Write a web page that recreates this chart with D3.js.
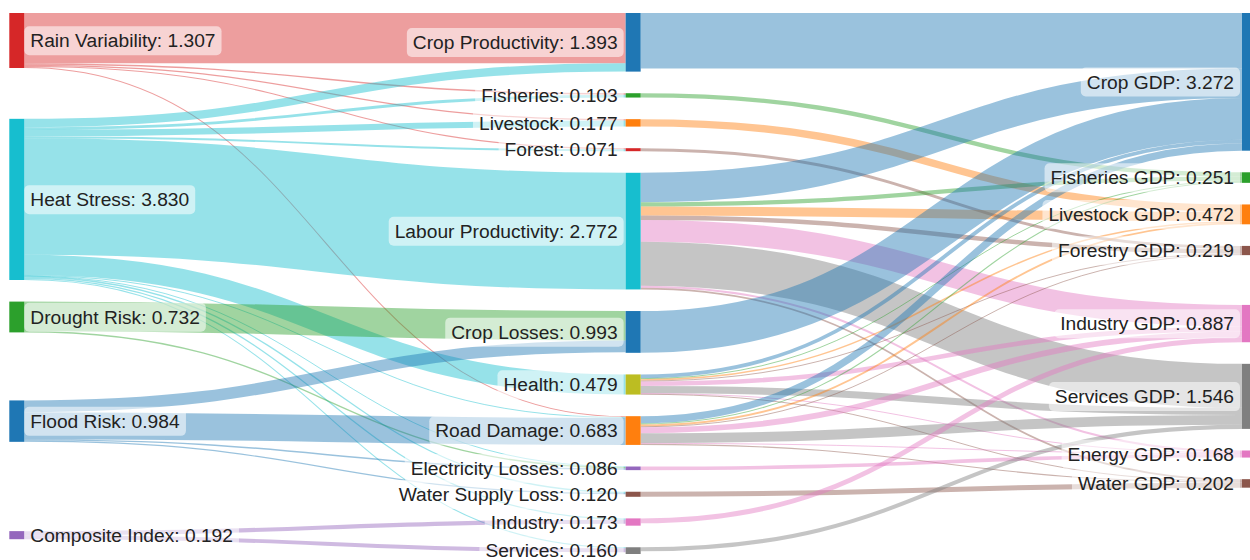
<!DOCTYPE html>
<html>
<head>
<meta charset="utf-8">
<script src="https://cdn.jsdelivr.net/npm/d3@7"></script>
<style>
  body { margin: 0; background: #fff; }
  svg { display: block; font-family: "Liberation Sans", Arial, sans-serif; }
</style>
</head>
<body>
<svg width="1250" height="560"></svg>
<script>
var nodeNames = [
  "Rain Variability", "Heat Stress", "Drought Risk", "Flood Risk", "Composite Index",
  "Crop Productivity", "Fisheries", "Livestock", "Forest", "Labour Productivity",
  "Crop Losses", "Health", "Road Damage", "Electricity Losses", "Water Supply Loss",
  "Industry", "Services",
  "Crop GDP", "Fisheries GDP", "Livestock GDP", "Forestry GDP", "Industry GDP",
  "Services GDP", "Energy GDP", "Water GDP"
];
var nodeValues = [
  1.307, 3.830, 0.732, 0.984, 0.192,
  1.393, 0.103, 0.177, 0.071, 2.772,
  0.993, 0.479, 0.683, 0.086, 0.120,
  0.173, 0.160,
  3.272, 0.251, 0.472, 0.219, 0.887,
  1.546, 0.168, 0.202
];
var nodeColors = [
  "#d62728", "#17becf", "#2ca02c", "#1f77b4", "#9467bd",
  "#1f77b4", "#2ca02c", "#ff7f0e", "#d62728", "#17becf",
  "#1f77b4", "#bcbd22", "#ff7f0e", "#9467bd", "#8c564b",
  "#e377c2", "#7f7f7f",
  "#1f77b4", "#2ca02c", "#ff7f0e", "#8c564b", "#e377c2",
  "#7f7f7f", "#e377c2", "#8c564b"
];

// hazard -> impact channel
var hazardFrom = [
  "Rain Variability", "Rain Variability", "Rain Variability", "Rain Variability", "Rain Variability",
  "Heat Stress", "Heat Stress", "Heat Stress", "Heat Stress", "Heat Stress", "Heat Stress",
  "Heat Stress", "Heat Stress", "Heat Stress", "Heat Stress", "Heat Stress",
  "Drought Risk", "Drought Risk",
  "Flood Risk", "Flood Risk", "Flood Risk", "Flood Risk",
  "Composite Index", "Composite Index"
];
var hazardTo = [
  "Crop Productivity", "Fisheries", "Livestock", "Forest", "Road Damage",
  "Crop Productivity", "Fisheries", "Livestock", "Forest", "Labour Productivity", "Health",
  "Road Damage", "Electricity Losses", "Water Supply Loss", "Industry", "Services",
  "Crop Losses", "Electricity Losses",
  "Crop Losses", "Road Damage", "Electricity Losses", "Water Supply Loss",
  "Industry", "Services"
];
var hazardValues = [
  1.193, 0.035, 0.030, 0.025, 0.024,
  0.200, 0.068, 0.147, 0.046, 2.772, 0.479,
  0.020, 0.012, 0.030, 0.030, 0.026,
  0.700, 0.032,
  0.280, 0.640, 0.035, 0.029,
  0.100, 0.092
];

// impact channel -> sector GDP
var sectorFrom = [
  "Crop Productivity", "Fisheries", "Livestock", "Forest",
  "Labour Productivity", "Labour Productivity", "Labour Productivity", "Labour Productivity",
  "Labour Productivity", "Labour Productivity", "Labour Productivity", "Labour Productivity",
  "Crop Losses",
  "Health", "Health", "Health", "Health", "Health", "Health", "Health", "Health",
  "Road Damage", "Road Damage", "Road Damage", "Road Damage", "Road Damage", "Road Damage", "Road Damage", "Road Damage",
  "Electricity Losses", "Water Supply Loss", "Industry", "Services"
];
var sectorTo = [
  "Crop GDP", "Fisheries GDP", "Livestock GDP", "Forestry GDP",
  "Crop GDP", "Fisheries GDP", "Livestock GDP", "Forestry GDP",
  "Industry GDP", "Services GDP", "Energy GDP", "Water GDP",
  "Crop GDP",
  "Crop GDP", "Fisheries GDP", "Livestock GDP", "Forestry GDP", "Industry GDP", "Services GDP", "Energy GDP", "Water GDP",
  "Crop GDP", "Fisheries GDP", "Livestock GDP", "Forestry GDP", "Industry GDP", "Services GDP", "Energy GDP", "Water GDP",
  "Energy GDP", "Water GDP", "Industry GDP", "Services GDP"
];
var sectorValues = [
  1.319, 0.103, 0.177, 0.071,
  0.700, 0.100, 0.215, 0.106,
  0.520, 1.045, 0.046, 0.040,
  0.993,
  0.090, 0.022, 0.035, 0.020, 0.110, 0.170, 0.016, 0.016,
  0.170, 0.026, 0.045, 0.022, 0.140, 0.234, 0.020, 0.026,
  0.086, 0.120, 0.117, 0.097
];

var svg = d3.select("svg"),
    width = +svg.attr("width"),
    height = +svg.attr("height");

var x0 = 9.3, x1 = 1257, y0 = 13, y1 = 554,
    dx = 15, dy = 21.6, iterations = 6;

var nodes = nodeNames.map(function(name, i) {
  return { name: name, fixedValue: nodeValues[i], color: nodeColors[i] };
});
var byName = new Map(nodes.map(function(n) { return [n.name, n]; }));
var links = [];
hazardFrom.forEach(function(s, i) {
  links.push({ source: byName.get(s), target: byName.get(hazardTo[i]), value: hazardValues[i] });
});
sectorFrom.forEach(function(s, i) {
  links.push({ source: byName.get(s), target: byName.get(sectorTo[i]), value: sectorValues[i] });
});

// ---- sankey layout (d3-sankey steps, nodeSort(null) and linkSort(null)) ----
nodes.forEach(function(n, i) { n.index = i; n.sourceLinks = []; n.targetLinks = []; });
links.forEach(function(l, i) {
  l.index = i;
  l.source.sourceLinks.push(l);
  l.target.targetLinks.push(l);
});
nodes.forEach(function(n) { n.value = n.fixedValue; });

// depths
(function() {
  var current = new Set(nodes), next = new Set(), x = 0;
  while (current.size) {
    current.forEach(function(node) {
      node.depth = x;
      node.sourceLinks.forEach(function(l) { next.add(l.target); });
    });
    x++;
    current = next;
    next = new Set();
  }
})();

var nCols = d3.max(nodes, function(d) { return d.depth; }) + 1;
var kx = (x1 - x0 - dx) / (nCols - 1);
var columns = d3.range(nCols).map(function() { return []; });
nodes.forEach(function(node) {
  var i = node.sourceLinks.length ? node.depth : nCols - 1;
  node.layer = i;
  node.x0 = x0 + i * kx;
  node.x1 = node.x0 + dx;
  columns[i].push(node);
});

var py = Math.min(dy, (y1 - y0) / (d3.max(columns, function(c) { return c.length; }) - 1));
var ky = d3.min(columns, function(c) {
  return (y1 - y0 - (c.length - 1) * py) / d3.sum(c, function(d) { return d.value; });
});

columns.forEach(function(col) {
  var y = y0;
  col.forEach(function(node) {
    node.y0 = y;
    node.y1 = y + node.value * ky;
    y = node.y1 + py;
    node.sourceLinks.forEach(function(l) { l.width = l.value * ky; });
  });
  y = (y1 - y + py) / (col.length + 1);
  col.forEach(function(node, i) {
    node.y0 += y * (i + 1);
    node.y1 += y * (i + 1);
  });
});

// target.y0 that would give an ideal link from source to target
function targetTop(source, target) {
  var y = source.y0 - (source.sourceLinks.length - 1) * py / 2;
  for (var i = 0; i < source.sourceLinks.length; i++) {
    var l = source.sourceLinks[i];
    if (l.target === target) break;
    y += l.width + py;
  }
  for (var j = 0; j < target.targetLinks.length; j++) {
    var m = target.targetLinks[j];
    if (m.source === source) break;
    y -= m.width;
  }
  return y;
}
// source.y0 that would give an ideal link from source to target
function sourceTop(source, target) {
  var y = target.y0 - (target.targetLinks.length - 1) * py / 2;
  for (var i = 0; i < target.targetLinks.length; i++) {
    var l = target.targetLinks[i];
    if (l.source === source) break;
    y += l.width + py;
  }
  for (var j = 0; j < source.sourceLinks.length; j++) {
    var m = source.sourceLinks[j];
    if (m.target === target) break;
    y -= m.width;
  }
  return y;
}

function collideDown(col, y, i, alpha) {
  for (; i < col.length; ++i) {
    var node = col[i], d = (y - node.y0) * alpha;
    if (d > 1e-6) { node.y0 += d; node.y1 += d; }
    y = node.y1 + py;
  }
}
function collideUp(col, y, i, alpha) {
  for (; i >= 0; --i) {
    var node = col[i], d = (node.y1 - y) * alpha;
    if (d > 1e-6) { node.y0 -= d; node.y1 -= d; }
    y = node.y0 - py;
  }
}
function resolveCollisions(col, alpha) {
  var i = col.length >> 1, subject = col[i];
  collideUp(col, subject.y0 - py, i - 1, alpha);
  collideDown(col, subject.y1 + py, i + 1, alpha);
  collideUp(col, y1, col.length - 1, alpha);
  collideDown(col, y0, 0, alpha);
}

function relaxLeftToRight(alpha, beta) {
  for (var i = 1; i < columns.length; ++i) {
    var col = columns[i];
    col.forEach(function(target) {
      var y = 0, w = 0;
      target.targetLinks.forEach(function(l) {
        var v = l.value * (target.layer - l.source.layer);
        y += targetTop(l.source, target) * v;
        w += v;
      });
      if (!(w > 0)) return;
      var d = (y / w - target.y0) * alpha;
      target.y0 += d; target.y1 += d;
    });
    resolveCollisions(col, beta);
  }
}
function relaxRightToLeft(alpha, beta) {
  for (var i = columns.length - 2; i >= 0; --i) {
    var col = columns[i];
    col.forEach(function(source) {
      var y = 0, w = 0;
      source.sourceLinks.forEach(function(l) {
        var v = l.value * (l.target.layer - source.layer);
        y += sourceTop(source, l.target) * v;
        w += v;
      });
      if (!(w > 0)) return;
      var d = (y / w - source.y0) * alpha;
      source.y0 += d; source.y1 += d;
    });
    resolveCollisions(col, beta);
  }
}

for (var it = 0; it < iterations; ++it) {
  var alpha = Math.pow(0.99, it);
  var beta = Math.max(1 - alpha, (it + 1) / iterations);
  relaxRightToLeft(alpha, beta);
  relaxLeftToRight(alpha, beta);
}

nodes.forEach(function(node) {
  var sy = node.y0, ty = node.y0;
  node.sourceLinks.forEach(function(l) { l.y0 = sy + l.width / 2; sy += l.width; });
  node.targetLinks.forEach(function(l) { l.y1 = ty + l.width / 2; ty += l.width; });
});

// ---- draw ----
var linkPath = d3.linkHorizontal()
    .source(function(d) { return [d.source.x1, d.y0]; })
    .target(function(d) { return [d.target.x0, d.y1]; });

svg.append("g")
    .attr("fill", "none")
    .attr("stroke-opacity", 0.45)
  .selectAll("path")
  .data(links)
  .join("path")
    .attr("d", linkPath)
    .attr("stroke", function(d) { return d.source.layer === 0 ? d.source.color : d.target.color; })
    .attr("stroke-width", function(d) { return Math.max(1, d.width); });

svg.append("g")
  .selectAll("rect")
  .data(nodes)
  .join("rect")
    .attr("x", function(d) { return d.x0; })
    .attr("y", function(d) { return d.y0; })
    .attr("width", function(d) { return d.x1 - d.x0; })
    .attr("height", function(d) { return Math.max(1, d.y1 - d.y0); })
    .attr("fill", function(d) { return d.color; });

var label = svg.append("g")
    .style("font-size", "19.2px")
  .selectAll("g")
  .data(nodes)
  .join("g");

label.append("text")
    .attr("x", function(d) { return d.x0 < width / 2 ? d.x1 + 6 : d.x0 - 8; })
    .attr("y", function(d) { return (d.y0 + d.y1) / 2; })
    .attr("dy", "0.35em")
    .attr("text-anchor", function(d) { return d.x0 < width / 2 ? "start" : "end"; })
    .attr("fill", "#222")
    .text(function(d) { return d.name + ": " + d.value.toFixed(3); });

label.each(function() {
  var g = d3.select(this),
      b = g.select("text").node().getBBox();
  g.insert("rect", "text")
      .attr("x", b.x - 6)
      .attr("y", b.y - 4)
      .attr("width", b.width + 12)
      .attr("height", b.height + 8)
      .attr("rx", 5)
      .attr("fill", "#fff")
      .attr("fill-opacity", 0.55);
});
</script>
</body>
</html>
